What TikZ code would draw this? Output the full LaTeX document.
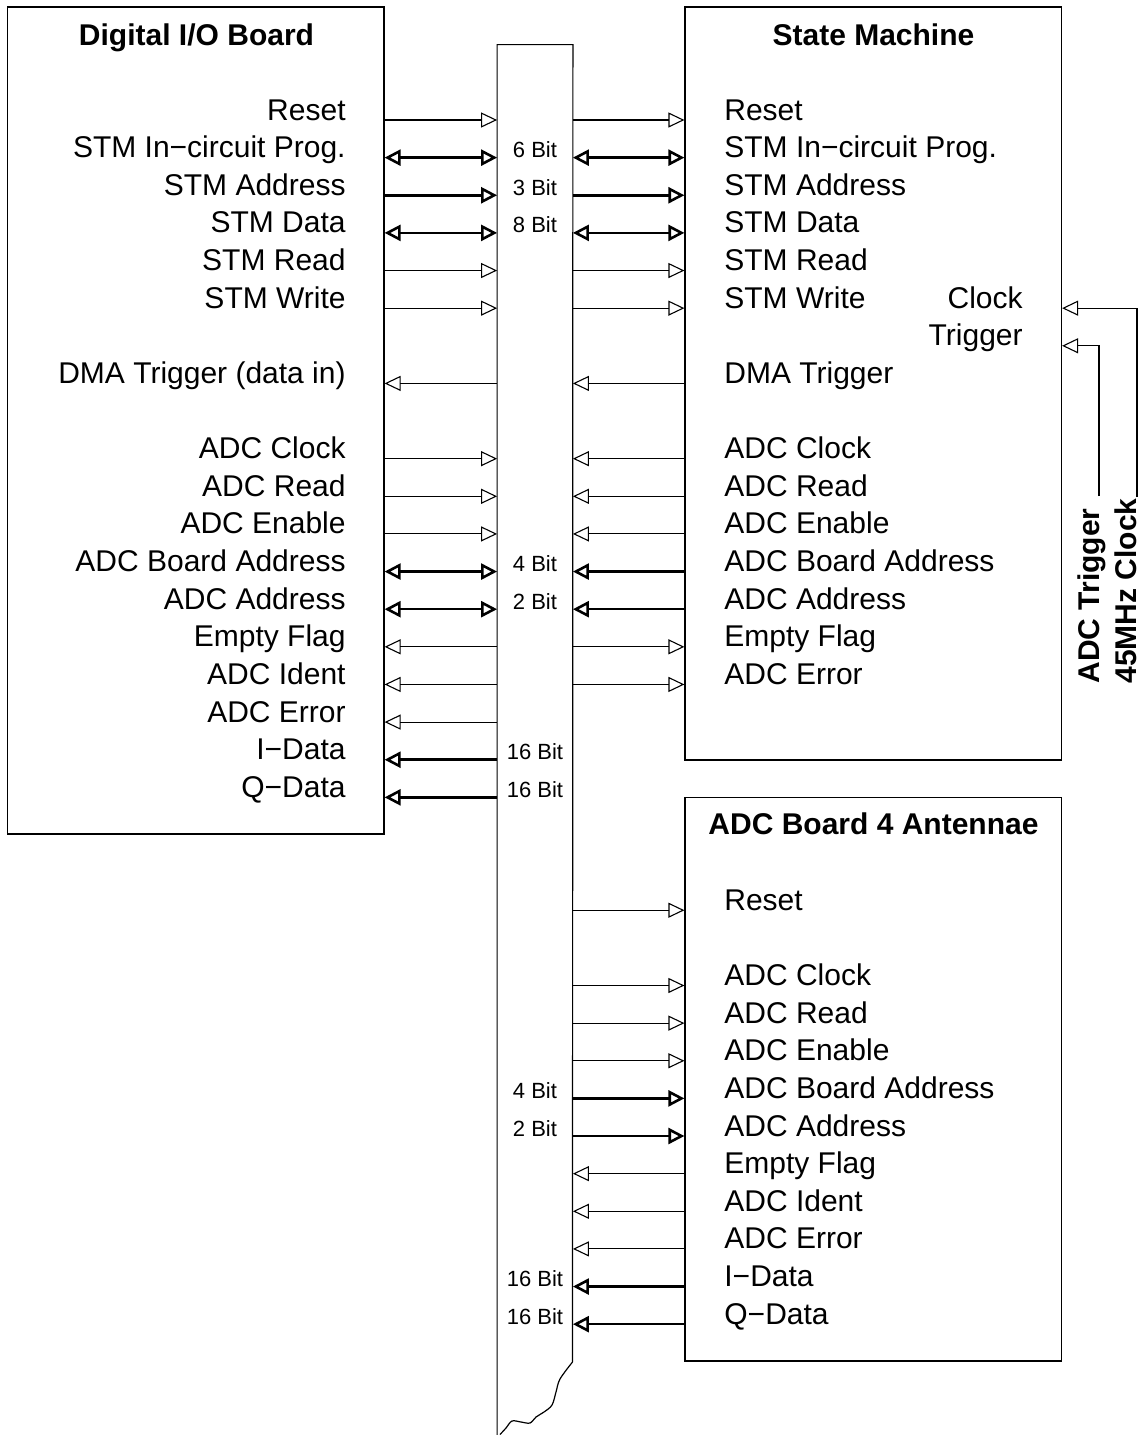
\documentclass[tikz,border=0pt]{standalone}
\usepackage{fontspec}
\setmainfont{Liberation Sans}
\usetikzlibrary{arrows.meta,fit}
\newcommand\rowY[1]{120+37.63*#1}
\begin{document}
\begin{tikzpicture}[x=0.5pt,y=-0.5pt,
  box/.style={draw, line width=0.6pt, inner sep=0pt},
  tn/.style={line width=0.55pt},
  tk/.style={line width=1.3pt},
  TH/.tip={Triangle[open,length=8pt,width=7.5pt]},
  KH/.tip={Triangle[open,length=8pt,width=8pt]},
  lab/.style={font=\fontsize{15pt}{18pt}\selectfont, inner sep=0pt},
  ttl/.style={font=\fontsize{15pt}{18pt}\selectfont\bfseries, inner sep=0pt, anchor=base},
  bit/.style={font=\fontsize{11pt}{13pt}\selectfont, inner sep=0pt, anchor=base}]
\useasboundingbox (0,0) rectangle (1142,1435);
% row coordinates
\foreach \i in {0,...,32} \coordinate (r\i) at (0,{\rowY{\i}});
% boxes
\node[box, fit={(7.5,7) (384,834)}] (dio) {};
\node[box, fit={(685,7) (1061.5,760)}] (sm) {};
\node[box, fit={(685,797.5) (1061.5,1361)}] (adc) {};
\node[inner sep=0pt, fit={(497.5,45) (572.5,1435)}] (bus) {};
\coordinate (wv) at (572.5,1362);
\draw[line width=0.6pt] (bus.south west) -- (bus.north west) -- (bus.north east) -- (wv)
  plot[smooth, tension=0.55] coordinates {(wv) (560,1379) (556,1392) (552,1405) (544,1412) (536,1417) (530,1423) (521,1422) (512,1421) (506,1428) (500,1434.5)};
% titles
\node[ttl] (dt) at (196.5,45.5) {Digital I/O Board};
\node[ttl] (st) at (873.5,45.5) {State Machine};
\node[ttl] (at) at (873.5,834.5) {ADC Board 4 Antennae};
% left labels
\foreach \i/\t in {0/Reset,1/STM In−circuit Prog.,2/STM Address,3/STM Data,4/STM Read,5/STM Write,7/DMA Trigger (data in),9/ADC Clock,10/ADC Read,11/ADC Enable,12/ADC Board Address,13/ADC Address,14/Empty Flag,15/ADC Ident,16/ADC Error,17/I−Data,18/Q−Data}
  \node[lab, anchor=base east] (L\i) at (346,{\rowY{\i}}) {\t};
% state machine labels
\foreach \i/\t in {0/Reset,1/STM In−circuit Prog.,2/STM Address,3/STM Data,4/STM Read,5/STM Write,7/DMA Trigger,9/ADC Clock,10/ADC Read,11/ADC Enable,12/ADC Board Address,13/ADC Address,14/Empty Flag,15/ADC Error}
  \node[lab, anchor=base west] (S\i) at (724,{\rowY{\i}}) {\t};
% adc board labels
\foreach \i/\t in {21/Reset,23/ADC Clock,24/ADC Read,25/ADC Enable,26/ADC Board Address,27/ADC Address,28/Empty Flag,29/ADC Ident,30/ADC Error,31/I−Data,32/Q−Data}
  \node[lab, anchor=base west] (A\i) at (724,{\rowY{\i}}) {\t};
% bit labels
\foreach \i/\t in {1/6 Bit,2/3 Bit,3/8 Bit,12/4 Bit,13/2 Bit,17/16 Bit,18/16 Bit,26/4 Bit,27/2 Bit,31/16 Bit,32/16 Bit}
  \node[bit] (B\i) at (535,{\rowY{\i}}) {\t};
% clock / trigger
\node[lab, anchor=base east] (ck) at (1023,{\rowY{5}}) {Clock};
\node[lab, anchor=base east] (tg) at (1023,{\rowY{6}}) {Trigger};
\node[ttl, rotate=90, anchor=base west] (trg) at (1099.5,684) {ADC Trigger};
\node[ttl, rotate=90, anchor=base west] (clk) at (1136.5,684) {45MHz Clock};
\coordinate (ce) at (1137,497);
\coordinate (te) at (1099,496);
\draw[tn,-TH] (ce) |- (sm.east |- r5);
\draw[tn,-TH] (te) |- (sm.east |- r6);
% left connectors: Digital I/O <-> bus
\foreach \i in {0,4,5,9,10,11} \draw[tn,-TH] (dio.east |- r\i) -- (bus.west |- r\i);
\foreach \i in {7,14,15,16} \draw[tn,TH-] (dio.east |- r\i) -- (bus.west |- r\i);
\foreach \i in {1,3,12,13} \draw[tk,KH-KH] (dio.east |- r\i) -- (bus.west |- r\i);
\draw[tk,-KH] (dio.east |- r2) -- (bus.west |- r2);
\foreach \i in {17,18} \draw[tk,KH-] (dio.east |- r\i) -- (bus.west |- r\i);
% right connectors: bus <-> State Machine
\foreach \i in {0,4,5,14,15} \draw[tn,-TH] (bus.east |- r\i) -- (sm.west |- r\i);
\foreach \i in {7,9,10,11} \draw[tn,TH-] (bus.east |- r\i) -- (sm.west |- r\i);
\foreach \i in {1,3} \draw[tk,KH-KH] (bus.east |- r\i) -- (sm.west |- r\i);
\draw[tk,-KH] (bus.east |- r2) -- (sm.west |- r2);
\foreach \i in {12,13} \draw[tk,KH-] (bus.east |- r\i) -- (sm.west |- r\i);
% bus <-> ADC board
\foreach \i in {21,23,24,25} \draw[tn,-TH] (bus.east |- r\i) -- (adc.west |- r\i);
\foreach \i in {28,29,30} \draw[tn,TH-] (bus.east |- r\i) -- (adc.west |- r\i);
\foreach \i in {26,27} \draw[tk,-KH] (bus.east |- r\i) -- (adc.west |- r\i);
\foreach \i in {31,32} \draw[tk,KH-] (bus.east |- r\i) -- (adc.west |- r\i);
\end{tikzpicture}
\end{document}
